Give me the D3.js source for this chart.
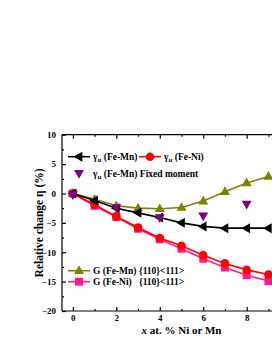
<!DOCTYPE html>
<html>
<head>
<meta charset="utf-8">
<script src="https://cdn.jsdelivr.net/npm/d3@7.9.0/dist/d3.min.js"></script>
<style>
  body { margin: 0; background: #fff; }
  svg { display: block; font-family: "Liberation Serif", "Times New Roman", serif; font-weight: bold; }
</style>
</head>
<body>
<svg id="chart" width="272" height="352"></svg>
<script>
// data
const xs = [0, 1, 2, 3, 4, 5, 6, 7, 8, 9];
const gammaFeMn = [0, -1.2, -2.5, -3.3, -4.1, -5.0, -5.6, -5.9, -5.9, -5.9];
const gammaFeNi = [0, -1.9, -3.9, -5.8, -7.6, -8.9, -10.5, -11.9, -13.0, -13.8];
const fixedX = [0, 2, 4, 6, 8];
const fixedFeMn = [-0.2, -2.4, -4.1, -3.8, -1.8];
const gFeMn = [0, -1.0, -2.1, -2.5, -2.6, -2.4, -1.3, 0.3, 1.8, 2.9];
const gFeNi = [0, -2.1, -4.0, -6.0, -7.8, -9.4, -11.1, -12.6, -13.9, -14.9];
const yTicks = [-20, -15, -10, -5, 0, 5, 10];
const xTicks = [0, 2, 4, 6, 8, 10];

const svg = d3.select('#chart');
const x = d3.scaleLinear().domain([-0.5, 10.5]).range([62, 301]);
const y = d3.scaleLinear().domain([-20, 10]).range([311, 134.7]);

// frame
const frame = svg.append('g').attr('stroke', '#000').attr('stroke-width', 1.2);
frame.append('line').attr('x1', x(-0.5)).attr('x2', x(-0.5)).attr('y1', y(10)).attr('y2', y(-20));
frame.append('line').attr('x1', x(-0.5)).attr('x2', x(10.5)).attr('y1', y(-20)).attr('y2', y(-20));
frame.append('line').attr('x1', x(-0.5)).attr('x2', x(10.5)).attr('y1', y(10)).attr('y2', y(10));

// axes with inward ticks
const bottomAxis = svg.append('g').attr('transform', `translate(0,${y(-20)})`)
  .call(d3.axisBottom(x).tickValues(xTicks).tickSize(-4).tickPadding(4).tickFormat(d3.format('d')));
const bottomMinor = svg.append('g').attr('transform', `translate(0,${y(-20)})`)
  .call(d3.axisBottom(x).tickValues([1, 3, 5, 7, 9]).tickSize(-2).tickFormat(''));
const topAxis = svg.append('g').attr('transform', `translate(0,${y(10)})`)
  .call(d3.axisTop(x).tickValues(xTicks).tickSize(-4).tickFormat(''));
const topMinor = svg.append('g').attr('transform', `translate(0,${y(10)})`)
  .call(d3.axisTop(x).tickValues([1, 3, 5, 7, 9]).tickSize(-2).tickFormat(''));
const leftAxis = svg.append('g').attr('transform', `translate(${x(-0.5)},0)`)
  .call(d3.axisLeft(y).tickValues(yTicks).tickSize(-4).tickPadding(6));
const leftMinor = svg.append('g').attr('transform', `translate(${x(-0.5)},0)`)
  .call(d3.axisLeft(y).tickValues([-17.5, -12.5, -7.5, -2.5, 2.5, 7.5]).tickSize(-2).tickFormat(''));

[bottomAxis, bottomMinor, topAxis, topMinor, leftAxis, leftMinor].forEach(g => {
  g.select('.domain').remove();
  g.selectAll('line').attr('stroke', '#000').attr('stroke-width', 1.2);
  g.selectAll('text').attr('font-size', 9).attr('font-family', 'Liberation Serif').attr('font-weight', 'bold').attr('fill', '#000');
});
bottomAxis.selectAll('text').filter(d => d > 9).remove();

// axis titles
const xt = svg.append('text').attr('x', 181.5).attr('y', 334).attr('text-anchor', 'middle')
  .attr('font-size', 11);
xt.append('tspan').attr('font-style', 'italic').text('x');
xt.append('tspan').text(' at. % Ni or Mn');

svg.append('text').attr('transform', `translate(43,${(y(10) + y(-20)) / 2}) rotate(-90)`)
  .attr('text-anchor', 'middle').attr('font-size', 11.5).text('Relative change η (%)');

// markers
function tri(s, dir) {
  const h = s * 0.866;
  let pts = [[0, -h * 0.62], [s / 2, h * 0.38], [-s / 2, h * 0.38]];
  const rot = { up: 0, down: 180, left: -90 }[dir];
  const a = rot * Math.PI / 180;
  pts = pts.map(([px, py]) => [px * Math.cos(a) - py * Math.sin(a), px * Math.sin(a) + py * Math.cos(a)]);
  return 'M' + pts.map(p => p.join(',')).join('L') + 'Z';
}
function marker(g, cx, cy, kind, color) {
  if (kind === 'circle') {
    g.append('circle').attr('cx', cx).attr('cy', cy).attr('r', 4.3).attr('fill', color);
  } else if (kind === 'square') {
    g.append('rect').attr('x', cx - 4).attr('y', cy - 4).attr('width', 8).attr('height', 8).attr('fill', color);
  } else {
    g.append('path').attr('transform', `translate(${cx},${cy})`).attr('d', tri(10, kind)).attr('fill', color);
  }
}

const line = d3.line().x(d => x(d[0])).y(d => y(d[1]));
function series(xv, yv, color, kind, withLine) {
  const g = svg.append('g');
  const pts = xv.map((v, i) => [v, yv[i]]);
  if (withLine) {
    g.append('path').attr('d', line(pts)).attr('fill', 'none').attr('stroke', color).attr('stroke-width', 1.6);
  }
  pts.forEach(p => marker(g, x(p[0]), y(p[1]), kind, color));
}

const OLIVE = '#808000', PINK = '#ff1a8c', RED = '#ff0000', BLACK = '#000', PURPLE = '#800080';
series(xs, gFeMn, OLIVE, 'up', true);
series(xs, gFeNi, PINK, 'square', true);
series(xs, gammaFeNi, RED, 'circle', true);
series(xs, gammaFeMn, BLACK, 'left', true);
series(fixedX, fixedFeMn, PURPLE, 'down', false);

// legends
function legendItem(lx, ly, color, kind, withLine, label) {
  const g = svg.append('g');
  if (withLine) {
    g.append('line').attr('x1', lx).attr('x2', lx + 22).attr('y1', ly).attr('y2', ly)
      .attr('stroke', color).attr('stroke-width', 1.6);
  }
  marker(g, lx + 11, ly, kind, color);
  const t = g.append('text').attr('x', lx + 25).attr('y', ly + 3.3).attr('font-size', 9.5);
  label(t);
}
const gammaLabel = rest => t => {
  t.append('tspan').text('γ');
  t.append('tspan').attr('font-style', 'italic').attr('font-size', 7).attr('dy', 2).text('u');
  t.append('tspan').attr('dy', -2).attr('xml:space', 'preserve').text(rest);
};
legendItem(68, 156.7, BLACK, 'left', true, gammaLabel(' (Fe-Mn)'));
legendItem(139, 156.7, RED, 'circle', true, gammaLabel(' (Fe-Ni)'));
legendItem(68, 173.3, PURPLE, 'down', false, gammaLabel(' (Fe-Mn) Fixed moment'));
legendItem(68, 270.7, OLIVE, 'up', true, t => t.text('G (Fe-Mn) {110}<111>'));
legendItem(68, 281.7, PINK, 'square', true, t => t.attr('xml:space', 'preserve').text('G (Fe-Ni)   {110}<111>'));
</script>
</body>
</html>
